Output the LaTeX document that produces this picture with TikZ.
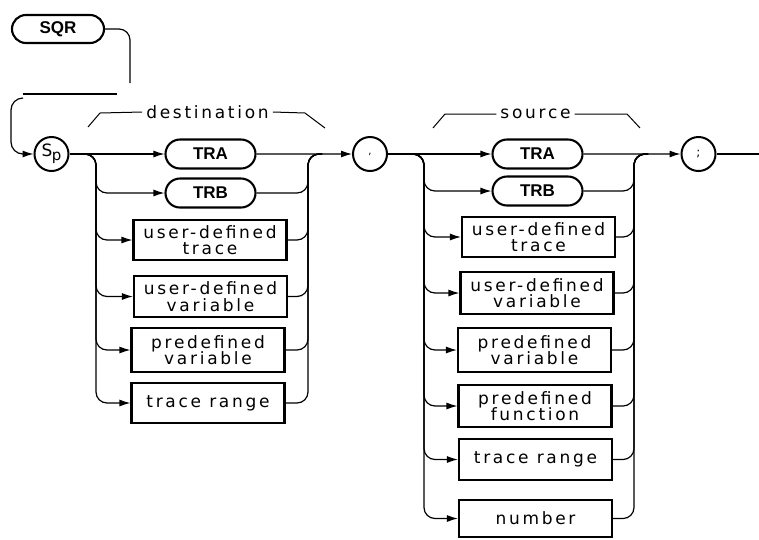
\documentclass[tikz,border=0pt]{standalone}
\usepackage{fontspec}
\usetikzlibrary{arrows.meta,shapes.misc}
\newfontfamily\lblfont[LetterSpace=16]{DejaVu Sans}
\newfontfamily\kwfont{Liberation Sans}
\newfontfamily\plainfont{DejaVu Sans}
\begin{document}
\begin{tikzpicture}[x=1pt,y=-1pt,
  conn/.style={line width=1.2pt},
  arr/.style={conn,-{Latex[length=11pt,width=7pt]}},
  rc/.style={rounded corners=11pt},
  kw/.style={rounded rectangle, draw, line width=2.1pt, minimum width=90pt, minimum height=29pt, inner sep=0pt, font=\kwfont\bfseries\fontsize{17}{17}\selectfont},
  ibox/.style={rectangle, draw, line width=2.1pt, minimum width=153pt, inner sep=0pt, align=center, font=\lblfont\fontsize{17}{16.5}\selectfont},
  circ/.style={circle, draw, line width=2pt, minimum size=34pt, inner sep=0pt},
  lab/.style={inner sep=4pt, font=\lblfont\fontsize{17}{17}\selectfont},
  brk/.style={line width=1pt}
]
\useasboundingbox (0,0) rectangle (759,539);

% ---------- start ----------
\node[kw, minimum width=92pt, minimum height=28pt] (sqr) at (58,29) {SQR};
\coordinate (sqrend) at (130,83);
\draw[conn, rc] (sqr.east) -| (sqrend);
\coordinate (brkL) at (23,94);
\coordinate (brkR) at (117,94);
\draw[line width=2.2pt] (brkL) -- (brkR);
\coordinate (cont) at (23,98);
\coordinate (contc) at (11,154);
\node[circ] (sp) at (51.5,154) {\plainfont\fontsize{17}{17}\selectfont S\kern-0.5pt\raisebox{-4pt}{\fontsize{15}{15}\selectfont p}};
\draw[arr, rounded corners=12pt] (cont) -| (contc) -- (sp.west);

% ---------- destination ----------
\node[lab] (dlab) at (207.5,112) {destination};
\coordinate (dbl1) at (88,127); \coordinate (dbl2) at (100,113);
\coordinate (dbr1) at (305,113); \coordinate (dbr2) at (325,128);
\draw[brk] (dbl1) -- (dbl2) -- (dlab.west);
\draw[brk] (dlab.east) -- (dbr1) -- (dbr2);

\node[kw] (dtra) at (210.5,154) {TRA};
\node[kw] (dtrb) at (210.5,193) {TRB};
\node[ibox, minimum height=40pt] (dudt) at (210,240) {user-defined\\trace};
\node[ibox, minimum height=41pt] (dudv) at (210.5,296.5) {user-defined\\variable};
\node[ibox, minimum height=44pt] (dpdv) at (208,350) {predefined\\variable};
\node[ibox, minimum height=40pt] (dtr) at (208,403) {trace range};
\node[circ] (comma) at (370,154) {\plainfont\fontsize{10}{10}\selectfont ,};

\draw[arr] (sp) -- (dtra);
\draw[arr] (dtra) -- (comma);
\coordinate (dsplit) at (84,154);
\coordinate (dl) at (96,154);
\coordinate (dr) at (308,154);
\coordinate (dmerge) at (322,154);
\foreach \b in {dtrb,dudt,dudv,dpdv,dtr}{
  \draw[arr, rc] (dsplit) -| (dl |- \b.west) -- (\b.west);
  \draw[conn, rc] (\b.east) -| (dr) -- (dmerge);
}

% ---------- source ----------
\node[lab] (slab) at (535.5,114) {source};
\coordinate (sbl1) at (433,128); \coordinate (sbl2) at (445,114);
\coordinate (sbr1) at (627,114); \coordinate (sbr2) at (640,128);
\draw[brk] (sbl1) -- (sbl2) -- (slab.west);
\draw[brk] (slab.east) -- (sbr1) -- (sbr2);

\node[kw] (stra) at (537.5,154) {TRA};
\node[kw] (strb) at (537.5,191) {TRB};
\node[ibox, minimum height=40pt] (sudt) at (538.5,237) {user-defined\\trace};
\node[ibox, minimum height=42pt] (sudv) at (537,293) {user-defined\\variable};
\node[ibox, minimum height=44pt] (spdv) at (534.5,350) {predefined\\variable};
\node[ibox, minimum height=42pt] (spdf) at (535,406) {predefined\\function};
\node[ibox, minimum height=41pt] (str) at (535.5,459.5) {trace range};
\node[ibox, minimum height=37pt] (snum) at (535.5,518.5) {number};
\node[circ] (semi) at (698.5,154) {\plainfont\fontsize{12}{12}\selectfont ;};
\coordinate (exit) at (759,154);

\draw[arr] (comma) -- (stra);
\draw[arr] (stra) -- (semi);
\draw[conn] (semi) -- (exit);
\coordinate (ssplit) at (411,154);
\coordinate (sl) at (424,154);
\coordinate (sr) at (634,154);
\coordinate (smerge) at (648,154);
\foreach \b in {strb,sudt,sudv,spdv,spdf,str,snum}{
  \draw[arr, rc] (ssplit) -| (sl |- \b.west) -- (\b.west);
  \draw[conn, rc] (\b.east) -| (sr) -- (smerge);
}
\end{tikzpicture}
\end{document}
